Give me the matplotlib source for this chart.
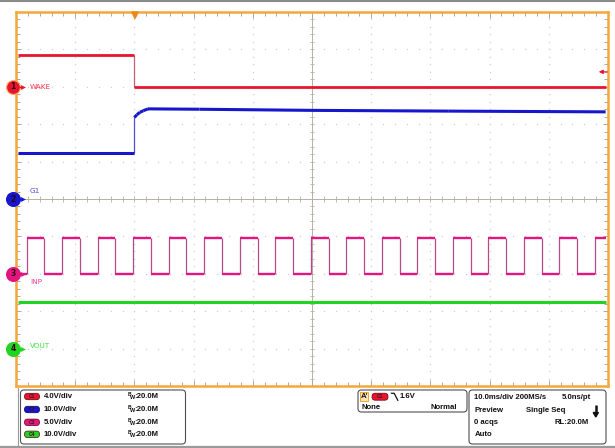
import matplotlib
matplotlib.use('Agg')
import matplotlib.pyplot as plt
from matplotlib.patches import FancyBboxPatch, Rectangle, Polygon
from matplotlib.collections import LineCollection
import numpy as np

# ---------------- data ----------------
time_span_ms = [-20.0, 80.0]          # 10 ms/div, trigger at 0 ms
ch_names = ['WAKE', 'G1', 'INP', 'VOUT']
ch_volts_per_div = [4.0, 10.0, 5.0, 10.0]
ch_offset_div = [8.0, 5.0, 3.0, 1.0]
ch_colors = ['#E8142E', '#1616CC', '#E2167E', '#22D422']
ch_edge_colors = ['#C86070', '#5050D0', '#B84888', '#60D060']
ch_label_colors = ['#F03050', '#4C4CE0', '#F0409A', '#40E040']

wake_t = [-19.7, 0.0, 0.0, 79.6]
wake_v = [3.4, 3.4, 0.0, 0.0]

g1_t = [-19.7, 0.0, 0.0, 0.4, 0.95, 1.5, 2.3, 11.0, 30.0, 53.0, 79.6]
g1_v = [12.2, 12.2, 21.8, 22.5, 23.2, 23.6, 24.1, 24.0, 23.7, 23.5, 23.3]

inp_rise_ms = [-18.2, -12.2, -6.2, -0.2, 5.8, 11.8, 17.8, 23.8, 29.8,
               35.8, 41.8, 47.8, 53.8, 59.8, 65.8, 71.8, 77.8]
inp_fall_ms = [-15.2, -9.2, -3.2, 2.8, 8.8, 14.8, 20.8, 26.8, 32.8,
               38.8, 44.8, 50.8, 56.8, 62.8, 68.8, 74.8]
inp_high_v = 4.8
inp_low_v = 0.0

vout_t = [-19.7, 79.6]
vout_v = [12.5, 12.5]

trigger_level_v = 1.6

scale_text = ['4.0V/div', '10.0V/div', '5.0V/div', '10.0V/div']
badge_text = ['C1', 'C2', 'C3', 'C4']
bw_text = ':20.0M'

# ---------------- figure ----------------
W, H = 615, 448
fig = plt.figure(figsize=(W / 100, H / 100), dpi=100)
fig.patch.set_facecolor('white')

L, R, T, B = 16, 608, 12, 386
ax = fig.add_axes([L / W, 1 - B / H, (R - L) / W, (B - T) / H])
ax.set_xlim(*time_span_ms)
ax.set_ylim(0, 10)
ax.set_xticks([]); ax.set_yticks([])
orange = '#F3A83A'
for s in ax.spines.values():
    s.set_color(orange)
    s.set_linewidth(1.8)

tmin, tmax = time_span_ms
# dotted grid
grid_c = '#CCCCCC'
tg = np.arange(tmin, tmax + 0.01, 2.0)
yg = np.arange(0, 10.01, 0.2)
for xv in [-10, 0, 10, 20, 40, 50, 60, 70]:
    ax.plot([xv] * len(yg), yg, ls='none', marker='s', ms=0.85, color=grid_c, mec='none', zorder=1)
for yv in [1, 2, 3, 4, 6, 7, 8, 9]:
    ax.plot(tg, [yv] * len(tg), ls='none', marker='s', ms=0.85, color=grid_c, mec='none', zorder=1)

# centre cross-hair with ticks
cc = '#B8B0A2'
ax.axvline(30, color=cc, lw=0.7, zorder=1)
ax.axhline(5, color=cc, lw=0.7, zorder=1)
tk = 0.07
segs = []
for yv in yg:
    segs.append([(30 - 0.42, yv), (30 + 0.42, yv)])
for xv in tg:
    segs.append([(xv, 5 - tk), (xv, 5 + tk)])
ax.add_collection(LineCollection(segs, colors=cc, linewidths=0.6, zorder=1))

# border ticks
bseg = []
for i, xv in enumerate(tg):
    ln = 0.16 if i % 5 == 0 else 0.11
    bseg.append([(xv, 10), (xv, 10 - ln)])
    bseg.append([(xv, 0), (xv, ln)])
for i, yv in enumerate(yg):
    ln = 0.9 if i % 5 == 0 else 0.6
    bseg.append([(tmin, yv), (tmin + ln, yv)])
    bseg.append([(tmax, yv), (tmax - ln, yv)])
ax.add_collection(LineCollection(bseg, colors='#A8A8A8', linewidths=0.7, zorder=1))


def to_div(ch, volts):
    return [ch_offset_div[ch] + v / ch_volts_per_div[ch] for v in volts]


def draw_trace(ch, t, v, lw_thick):
    y = to_div(ch, v)
    thick, thin = [], []
    for i in range(len(t) - 1):
        seg = [(t[i], y[i]), (t[i + 1], y[i + 1])]
        (thin if abs(t[i + 1] - t[i]) < 1e-9 else thick).append(seg)
    ax.add_collection(LineCollection(thin, colors=ch_edge_colors[ch], linewidths=0.9, zorder=3))
    ax.add_collection(LineCollection(thick, colors=ch_colors[ch], linewidths=lw_thick, zorder=4,
                                     capstyle='butt'))


draw_trace(0, wake_t, wake_v, 2.0)
draw_trace(1, g1_t, g1_v, 2.2)

# INP square wave built from the edge lists
inp_t = [vout_t[0]]
inp_v = [inp_low_v]
for k, r in enumerate(inp_rise_ms):
    inp_t += [r, r]
    inp_v += [inp_low_v, inp_high_v]
    if k < len(inp_fall_ms):
        f = inp_fall_ms[k]
        inp_t += [f, f]
        inp_v += [inp_high_v, inp_low_v]
inp_t.append(vout_t[1])
inp_v.append(inp_high_v)
draw_trace(2, inp_t, inp_v, 1.7)
draw_trace(3, vout_t, vout_v, 2.2)

# channel markers on the left
px_t = lambda px: (px - L) / (R - L) * (tmax - tmin) + tmin
label_dy_px = [0, -8, 8, -3]
for ch in range(4):
    yo = ch_offset_div[ch]
    ax.plot([px_t(13)], [yo], marker='o', ms=10, color=ch_colors[ch],
            mec='#F6B060' if ch == 0 else ch_colors[ch], mew=0.8, clip_on=False, zorder=6)
    ax.text(px_t(13), yo, str(ch + 1), ha='center', va='center', fontsize=5.5,
            color='#300010', zorder=7, clip_on=False, fontweight='bold')
    ax.plot([px_t(17.5), px_t(22)], [yo, yo], color=ch_colors[ch], lw=0.8, clip_on=False, zorder=6)
    ax.plot([px_t(23)], [yo], marker='>', ms=3.5, color=ch_colors[ch], mec='none', clip_on=False, zorder=6)
    ax.text(px_t(30), yo - label_dy_px[ch] / 37.4, ch_names[ch], ha='left', va='center',
            fontsize=5.2, color=ch_label_colors[ch], zorder=7)

# ---------------- overlay in pixel coordinates ----------------
ov = fig.add_axes([0, 0, 1, 1], zorder=10)
ov.set_xlim(0, W); ov.set_ylim(H, 0); ov.axis('off')
ov.patch.set_alpha(0)

ov.plot([0, W], [0.8, 0.8], color='#8A8A8A', lw=1.5)
ov.plot([0, W], [446.6, 446.6], color='#9A9A9A', lw=1.6)
ov.plot([17.5, 17.5], [388, 447], color='#9A9A9A', lw=0.8)

# trigger position marker (top) and trigger level arrow (right)
ov.add_patch(Polygon([(131.8, 12), (138.2, 12), (135, 18.5)], closed=True, color='#F08818', zorder=5))
lvl_py = B - (ch_offset_div[0] + trigger_level_v / ch_volts_per_div[0]) / 10 * (B - T)
ov.annotate('', xy=(596, lvl_py), xytext=(610, lvl_py),
            arrowprops=dict(arrowstyle='-|>', color=ch_colors[0], lw=0.8, mutation_scale=6))

font = dict(family='Liberation Sans', fontweight='bold', fontsize=5.6, color='#111111')


def box(x0, y0, x1, y1):
    ov.add_patch(FancyBboxPatch((x0, y0), x1 - x0, y1 - y0, boxstyle='round,pad=0,rounding_size=3.5',
                                fc='white', ec='#505050', lw=0.8))


def badge(xc, yc, ch, w=15, h=6.5):
    ov.add_patch(FancyBboxPatch((xc - w / 2, yc - h / 2), w, h, boxstyle='round,pad=0,rounding_size=3.2',
                                fc=ch_colors[ch], ec='#600010' if ch != 1 else '#000060', lw=0.5))
    ov.text(xc, yc + 0.3, badge_text[ch], ha='center', va='center', fontsize=3.6,
            color='#401020', family='Liberation Sans', fontweight='bold')


box(20.5, 390, 185.5, 444)
rows = [396.5, 409.5, 422.3, 434.3]
for ch in range(4):
    badge(32, rows[ch], ch)
    ov.text(43.5, rows[ch], scale_text[ch], ha='left', va='center', **font)
    ov.text(128, rows[ch] - 1.6, 'B', ha='left', va='center', family='Liberation Sans',
            fontweight='bold', fontsize=3.6, color='#111111')
    ov.text(130.2, rows[ch] + 1.0, 'W', ha='left', va='center', family='Liberation Sans',
            fontweight='bold', fontsize=4.0, color='#111111')
    ov.text(134.3, rows[ch], bw_text, ha='left', va='center', **font)

# trigger box
box(358, 390, 467, 412)
ov.add_patch(Rectangle((360, 392.3), 7.5, 8.5, fc='#FBE3B8', ec='#F0A030', lw=0.7))
ov.text(361, 396.7, "A'", ha='left', va='center', **font)
badge(380, 396.7, 0, w=16, h=7)
ov.plot([391.5, 394.2, 397.8], [393.3, 393.3, 400.3], color='#111111', lw=0.9)
ov.text(400, 396.5, '1.6V', ha='left', va='center', **font)
ov.text(361.5, 407.5, 'None', ha='left', va='center', **font)
ov.text(430.5, 407.5, 'Normal', ha='left', va='center', **font)

# acquisition box
box(469, 390, 606, 444)
ov.text(474.5, 397.3, '10.0ms/div 200MS/s', ha='left', va='center', **font)
ov.text(562, 397.3, '5.0ns/pt', ha='left', va='center', **font)
ov.text(474.5, 410.3, 'Preview', ha='left', va='center', **font)
ov.text(526.5, 410.3, 'Single Seq', ha='left', va='center', **font)
ov.plot([595.8, 595.8], [405, 413], color='#111111', lw=1.8, solid_capstyle='butt')
ov.add_patch(Polygon([(593.2, 412.5), (598.4, 412.5), (595.8, 417)], closed=True, color='#111111'))
ov.text(474.5, 422.7, '0 acqs', ha='left', va='center', **font)
ov.text(554.3, 422.7, 'RL:20.0M', ha='left', va='center', **font)
ov.text(474.5, 434.3, 'Auto', ha='left', va='center', **font)

fig.savefig('out.png', dpi=100)
